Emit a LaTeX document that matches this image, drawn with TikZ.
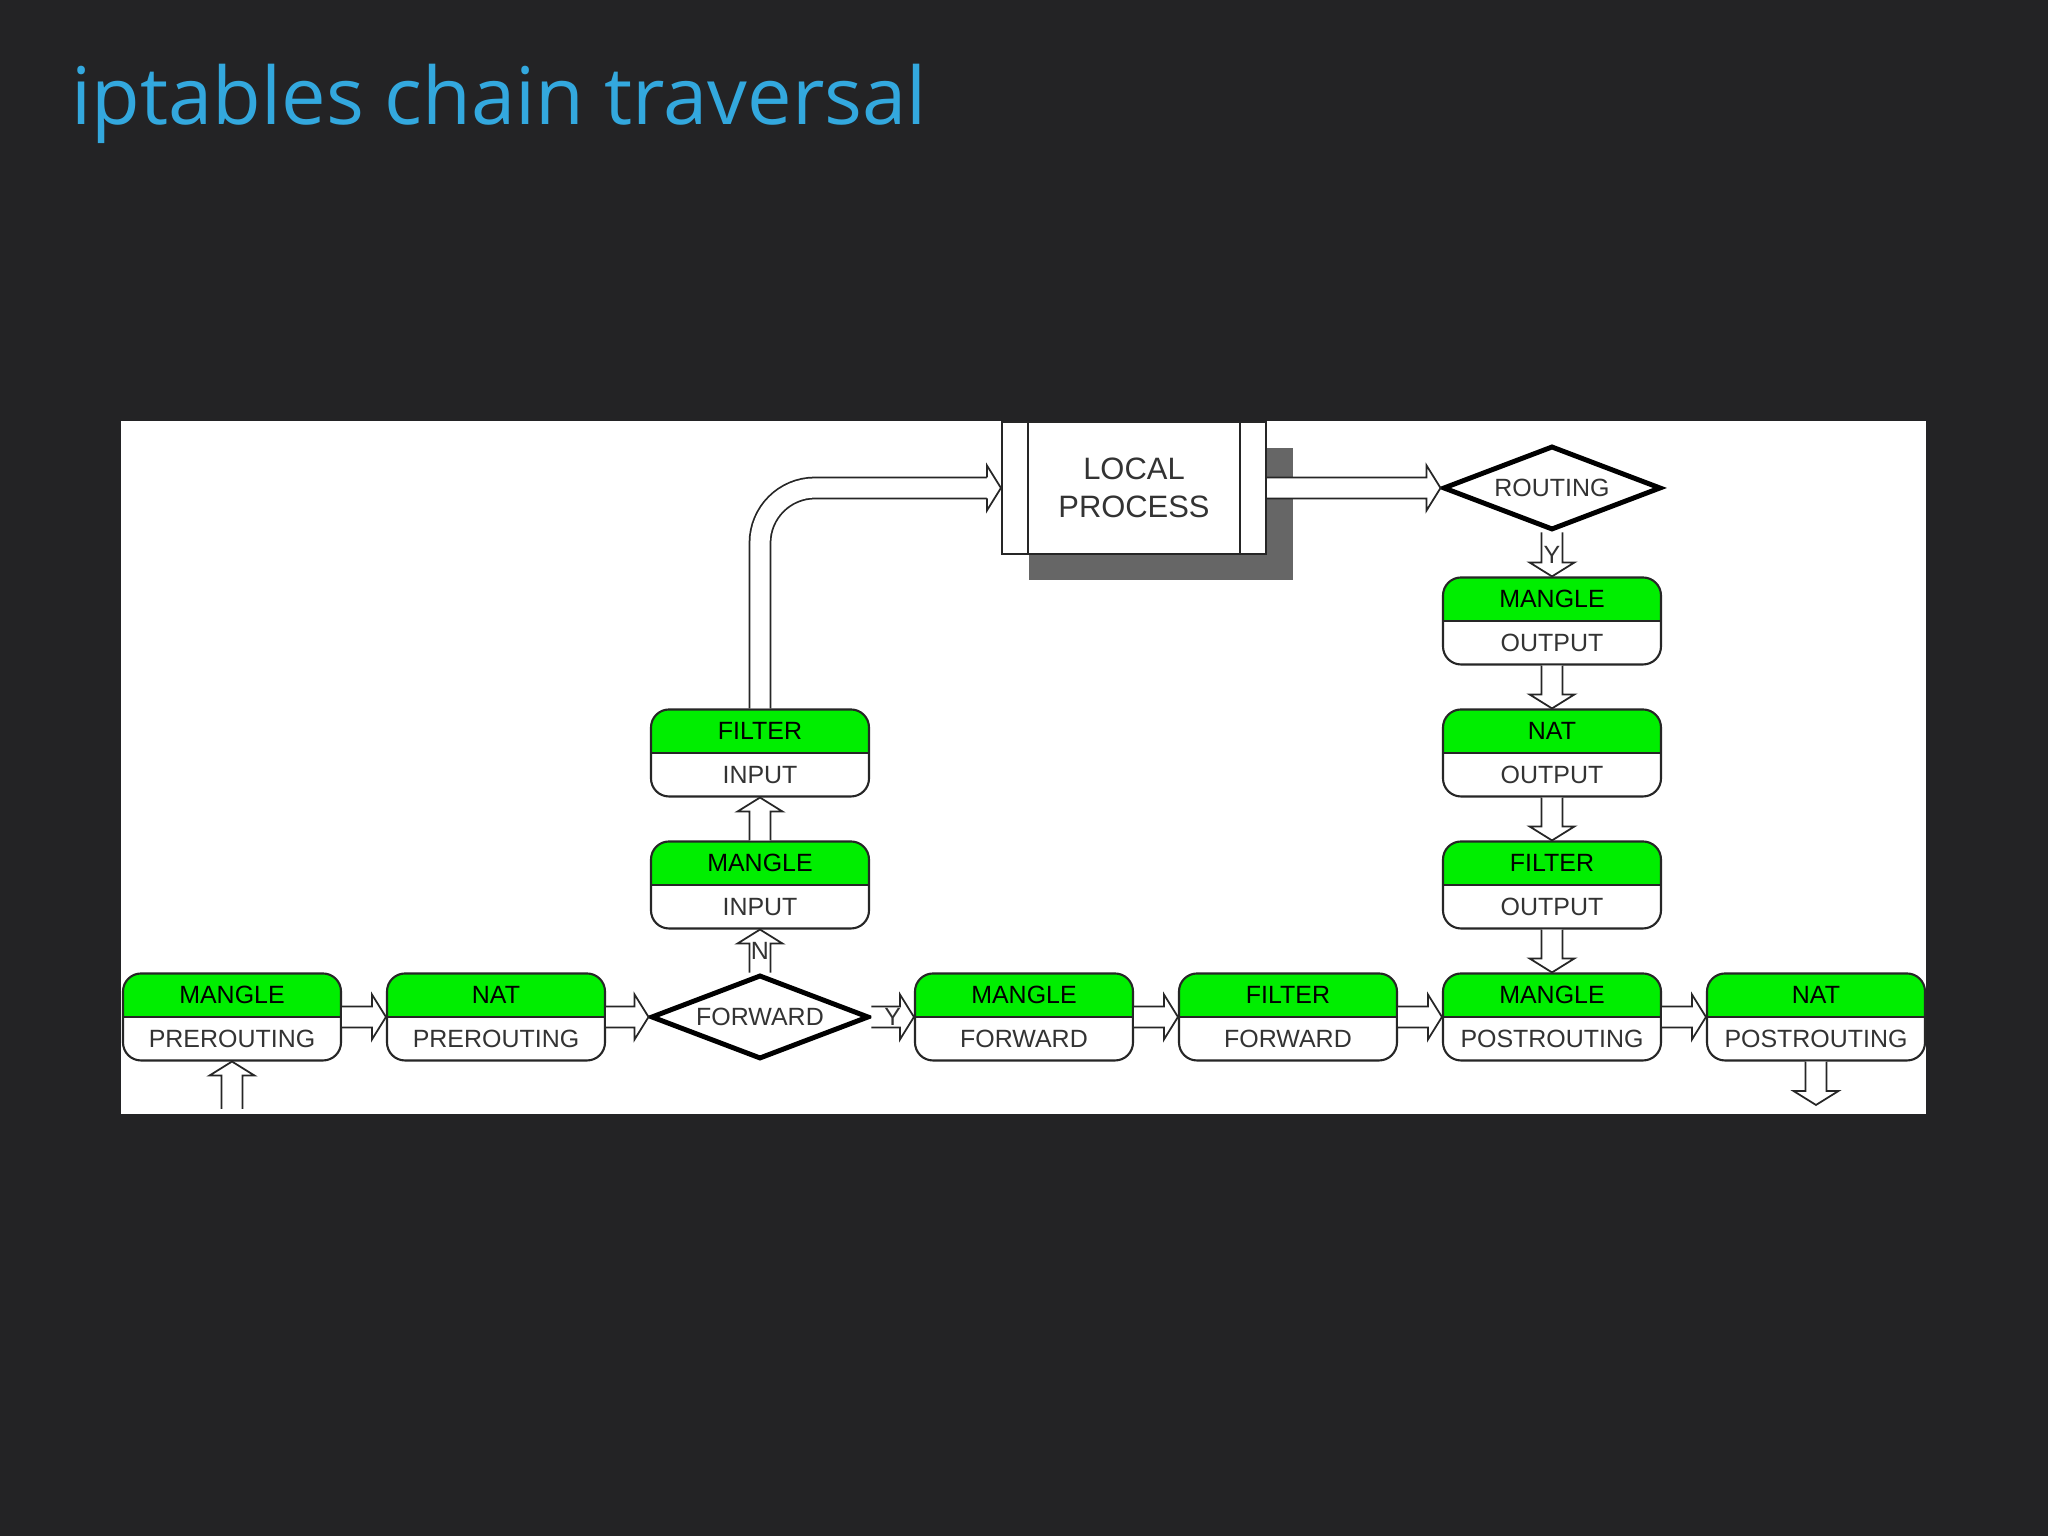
\documentclass[tikz,border=0pt]{standalone}
\usepackage{fontspec}
\setmainfont{Liberation Sans}
\newfontfamily\titlefont{Open Sans}
\usetikzlibrary{calc,shapes.geometric,shadows}
\definecolor{slidebg}{RGB}{35,35,37}
\definecolor{titleblue}{RGB}{51,168,222}
\definecolor{chaingreen}{RGB}{0,238,0}
\definecolor{textgray}{RGB}{51,51,51}
\definecolor{shadowgray}{RGB}{102,102,102}

\begin{document}
\begin{tikzpicture}[
  chainbox/.style={draw=black!85, line width=0.6pt, rounded corners=0.18cm, fill=white,
    minimum width=2.18cm, minimum height=0.87cm, inner sep=0pt, align=center,
    font=\fontsize{7.1pt}{12.4pt}\selectfont,
    path picture={
      \fill[chaingreen, sharp corners] (path picture bounding box.west) rectangle (path picture bounding box.north east);
      \draw[sharp corners, line width=0.8pt] (path picture bounding box.west) -- (path picture bounding box.east);}},
  decision/.style={diamond, draw=black, line width=1.4pt, fill=white, aspect=2.5,
    minimum width=2.18cm, minimum height=0.84cm, inner sep=0pt, text=textgray,
    font=\fontsize{7.1pt}{8pt}\selectfont},
  process/.style={draw=black!85, line width=0.6pt, fill=white, minimum width=2.64cm,
    minimum height=1.32cm, align=center, text=textgray,
    font=\fontsize{8.8pt}{10.8pt}\selectfont,
    drop shadow={shadow xshift=0.27cm, shadow yshift=-0.26cm, fill=shadowgray, opacity=1},
    path picture={
      \draw[line width=0.6pt] ([xshift=0.26cm]path picture bounding box.north west) -- ([xshift=0.26cm]path picture bounding box.south west);
      \draw[line width=0.6pt] ([xshift=-0.26cm]path picture bounding box.north east) -- ([xshift=-0.26cm]path picture bounding box.south east);}},
  shaft/.style={draw=black!85, line width=0.5pt, double=white, double distance=0.192cm},
  flow/.style={draw=black!85, line width=0.5pt, fill=white, to path={
    let \p2=($(\tikztotarget)!0.14cm!(\tikztostart)$) in
    ($(\tikztostart)!0.105cm!90:(\tikztotarget)$) -- ($(\p2)!0.105cm!90:(\tikztotarget)$)
    -- ($(\p2)!0.225cm!90:(\tikztotarget)$) -- (\tikztotarget)
    -- ($(\p2)!0.225cm!-90:(\tikztotarget)$) -- ($(\p2)!0.105cm!-90:(\tikztotarget)$)
    -- ($(\tikztostart)!0.105cm!-90:(\tikztotarget)$)}},
  flag/.style={font=\fontsize{7.1pt}{8pt}\selectfont, text=textgray, inner sep=0pt}]
\useasboundingbox (0,0) rectangle (20.48,15.36);
\fill[slidebg] (0,0) rectangle (20.48,15.36);
\node[anchor=base west, text=titleblue, inner sep=0pt,
  font=\titlefont\fontsize{22.6pt}{27pt}\selectfont] (title) at (0.71,14.11) {iptables chain traversal};
\fill[white] (1.21,4.22) rectangle (19.26,11.15);

\node[decision] (fwd) at (7.60,5.19) {FORWARD};
\node[decision] (rt) at (15.52,10.48) {ROUTING};
\node[process] (lp) at (11.34,10.48) {LOCAL\\PROCESS};
\foreach \n/\x/\y/\t/\b in {mpre/2.32/5.19/MANGLE/PREROUTING, npre/4.96/5.19/NAT/PREROUTING,
    mfwd/10.24/5.19/MANGLE/FORWARD, ffwd/12.88/5.19/FILTER/FORWARD,
    mpost/15.52/5.19/MANGLE/POSTROUTING, npost/18.16/5.19/NAT/POSTROUTING,
    min/7.60/6.51/MANGLE/INPUT, fin/7.60/7.83/FILTER/INPUT,
    mout/15.52/9.15/MANGLE/OUTPUT, nout/15.52/7.83/NAT/OUTPUT, fout/15.52/6.51/FILTER/OUTPUT}
  \node[chainbox] (\n) at (\x,\y) {\t\\\textcolor{textgray}{\b}};
\coordinate (in) at (2.32,4.27);
\coordinate (out) at (18.16,4.31);
\coordinate (lphead) at ([xshift=-0.14cm]lp.west);

\draw[flow] (in) to (mpre.south);
\draw[flow] (mpre.east) to (npre.west);
\draw[flow] (npre.east) to (fwd.west);
\draw[flow] (fwd.north) to (min.south);
\draw[flow] (min.north) to (fin.south);
\draw[shaft, rounded corners=0.55cm] (fin.north) |- (lphead);
\draw[flow] (lphead) to (lp.west);
\draw[flow] (lp.east) to (rt.west);
\draw[flow] (rt.south) to (mout.north);
\draw[flow] (mout.south) to (nout.north);
\draw[flow] (nout.south) to (fout.north);
\draw[flow] (fout.south) to (mpost.north);
\draw[flow] (fwd.east) to (mfwd.west);
\draw[flow] (mfwd.east) to (ffwd.west);
\draw[flow] (ffwd.east) to (mpost.west);
\draw[flow] (mpost.east) to (npost.west);
\draw[flow] (npost.south) to (out);
\path (fwd.north) -- node[flag] {N} (min.south);
\path (rt.south) -- node[flag] {Y} (mout.north);
\path (fwd.east) -- node[flag] {Y} (mfwd.west);
\end{tikzpicture}
\end{document}
